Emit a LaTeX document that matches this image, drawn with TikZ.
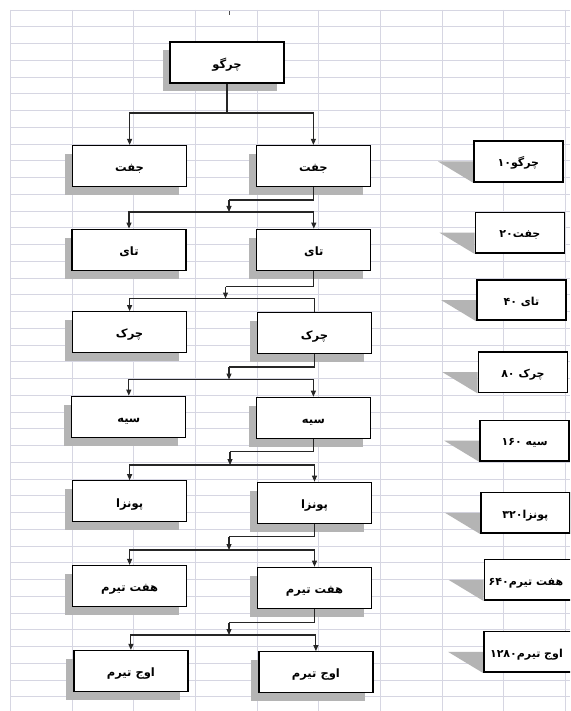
\documentclass[tikz,border=0pt]{standalone}
\usepackage{fontspec}
\usetikzlibrary{arrows.meta,shadows,calc}
\newfontfamily\fa[Script=Arabic]{DejaVu Sans}
\TeXXeTstate=1
% right-to-left word, and word followed by a left-to-right number
\newcommand{\fatext}[1]{{\fa\bfseries\beginR #1\endR}}
\newcommand{\fanum}[2]{{\fa\bfseries\beginR #1\beginL #2\endL\endR}}
\definecolor{gridline}{RGB}{214,214,226}
\definecolor{shade}{RGB}{180,180,180}
\pgfdeclarelayer{gridlayer}
\pgfdeclarelayer{shadowlayer}
\pgfsetlayers{gridlayer,shadowlayer,main}
\begin{document}
\begin{tikzpicture}[x=1pt,y=-1pt,
  box/.style={draw=black, line width=1.2pt, fill=white,
    minimum width=114pt, minimum height=41pt, inner sep=0pt,
    text height=13.5pt, text depth=2pt,
    font=\fontsize{11.5}{13}\selectfont,
    drop shadow={shadow xshift=-7.5pt, shadow yshift=-8.5pt, fill=shade, opacity=1}},
  lblbox/.style={draw=black, line width=1.8pt, fill=white,
    minimum width=89pt, minimum height=40.5pt, inner sep=0pt, anchor=west,
    text height=12.5pt, text depth=2pt,
    font=\fontsize{11}{13}\selectfont},
  lbltxt/.style={inner sep=0pt, text height=12.5pt, text depth=2pt,
    font=\fontsize{11}{13}\selectfont},
  link/.style={line width=1.1pt, draw=black!85},
  arr/.style={link, -{Triangle[length=6pt,width=5pt]}},
  lblshadow/.style={fill=shade}
]
\useasboundingbox (0,0) rectangle (570,711);
\clip (0,0) rectangle (570,711);

% spreadsheet grid
\begin{pgfonlayer}{gridlayer}
  \fill[white] (0,0) rectangle (570,711);
  \foreach \k in {0,...,41}
    \draw[gridline, line width=0.9pt] (10,{10+16.75*\k}) -- (570,{10+16.75*\k});
  \foreach \k in {0,...,9}
    \draw[gridline, line width=0.9pt] ({10.5+61.65*\k},10) -- ({10.5+61.65*\k},711);
  \fill[black!70] (228.6,11.3) rectangle (230,14.6);
\end{pgfonlayer}

% tree of boxes
\node[box] (top) at (227,62.5) {\fatext{چرگو}};
\node[box] (a1) at (129.6,166) {\fatext{جفت}};
\node[box] (b1) at (313.4,166) {\fatext{جفت}};
\node[box] (a2) at (129,249.7) {\fatext{تای}};
\node[box] (b2) at (313.8,249.7) {\fatext{تای}};
\node[box] (a3) at (129.6,332.2) {\fatext{چرک}};
\node[box] (b3) at (314.5,333.3) {\fatext{چرک}};
\node[box] (a4) at (128.8,416.7) {\fatext{سیه}};
\node[box] (b4) at (313.4,417.8) {\fatext{سیه}};
\node[box] (a5) at (129.6,501.3) {\fatext{پونزا}};
\node[box] (b5) at (314.5,502.8) {\fatext{پونزا}};
\node[box] (a6) at (129.6,586) {\fatext{هفت تیرم}};
\node[box] (b6) at (314.5,587.8) {\fatext{هفت تیرم}};
\node[box] (a7) at (130.9,671) {\fatext{اوج تیرم}};
\node[box] (b7) at (315.9,672.2) {\fatext{اوج تیرم}};

% connectors
\coordinate (h0) at (227,113);
\draw[link] (top.south) -- (h0);
\draw[arr] (h0) -| (a1.north);
\draw[arr] (h0) -| (b1.north);

\coordinate (m1) at (229,200);   \coordinate (h1) at (229,212);
\coordinate (m2) at (225.5,286.5); \coordinate (h2) at (225.5,298.5);
\coordinate (m3) at (229,367);   \coordinate (h3) at (229,379.5);
\coordinate (m4) at (230,451.7); \coordinate (h4) at (230,465);
\coordinate (m5) at (229,536.7); \coordinate (h5) at (229,550);
\coordinate (m6) at (229,622.7); \coordinate (h6) at (229,635);

\foreach \i/\j in {1/2,2/3,3/4,4/5,5/6,6/7}{
  \draw[link] (b\i.south) |- (m\i);
  \draw[arr] (m\i) -- (h\i);
  \draw[arr] (h\i) -| (a\j.north);
}
\draw[arr] (h1) -| (b2.north);
\draw[link] (h2) -| (b3.north);
\draw[arr] (h3) -| (b4.north);
\draw[arr] (h4) -| (b5.north);
\draw[arr] (h5) -| (b6.north);
\draw[arr] (h6) -| (b7.north);

% count labels on the right
\node[lblbox] (l1) at (473,161.5) {\fanum{چرگو}{۱۰}};
\node[lblbox] (l2) at (474.5,232.7) {\fanum{جفت}{۲۰}};
\node[lblbox] (l3) at (476,300) {\fanum{تای }{۴۰}};
\node[lblbox] (l4) at (477.5,372.2) {\fanum{چرک }{۸۰}};
\node[lblbox] (l5) at (479.3,440.7) {\fanum{سیه }{۱۶۰}};
\node[lblbox] (l6) at (480,512.8) {\fanum{پونزا}{۳۲۰}};
\node[lblbox, minimum width=110pt] (l7) at (483.5,579.8) {};
\node[lbltxt, anchor=east] (t7) at ($(l7.west)+(80,0)$) {\fanum{هفت تیرم}{۶۴۰}};
\node[lblbox, minimum width=110pt] (l8) at (483,651.8) {};
\node[lbltxt, anchor=east] (t8) at ($(l8.west)+(80,0)$) {\fanum{اوج تیرم}{۱۲۸۰}};

\begin{pgfonlayer}{shadowlayer}
  \foreach \n in {l1,l2,l3,l4,l5,l6,l7,l8}
    \fill[lblshadow] ($(\n.west)+(-35,0)$) -- (\n.west) -- (\n.south west) -- cycle;
\end{pgfonlayer}
\end{tikzpicture}
\end{document}
